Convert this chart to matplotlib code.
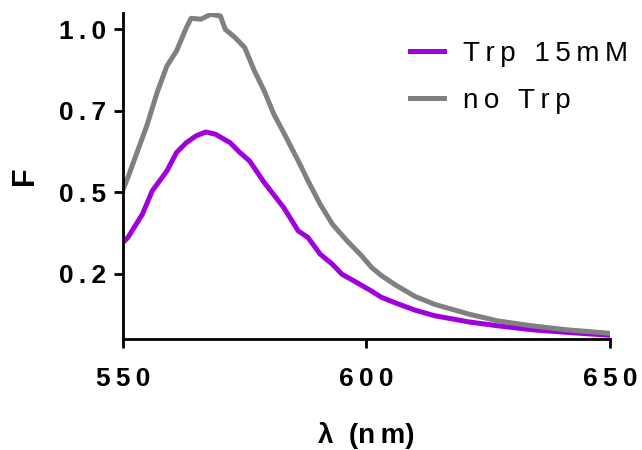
import matplotlib
matplotlib.use("Agg")
import matplotlib.pyplot as plt
from matplotlib.ticker import FixedLocator, FixedFormatter

plt.rcParams['font.family'] = ['Liberation Sans', 'DejaVu Sans']

TS = "\u2009"

wl_trp = [550, 551, 554, 556, 559, 561, 563, 565, 567, 569, 572, 574, 576, 579, 583,
          586, 588, 590.5, 593, 595, 598, 601, 603, 606, 610, 614, 621, 627, 634, 641, 650]
f_trp = [0.346, 0.361, 0.433, 0.504, 0.565, 0.622, 0.652, 0.673, 0.685, 0.678, 0.652,
         0.622, 0.596, 0.530, 0.453, 0.381, 0.361, 0.310, 0.279, 0.248, 0.223, 0.197,
         0.178, 0.160, 0.138, 0.121, 0.102, 0.090, 0.078, 0.070, 0.061]

wl_no = [550, 551, 553, 555, 557, 559, 561, 563, 564, 566, 568, 570, 571, 573, 575,
         577, 579, 581, 583, 586, 588, 590.5, 593, 596, 599, 601, 603, 606, 610, 614,
         621, 627, 634, 641, 650]
f_no = [0.509, 0.545, 0.627, 0.709, 0.806, 0.887, 0.934, 1.005, 1.034, 1.031, 1.046,
        1.041, 1.000, 0.975, 0.944, 0.872, 0.811, 0.739, 0.683, 0.596, 0.535, 0.463,
        0.402, 0.351, 0.305, 0.270, 0.245, 0.215, 0.180, 0.156, 0.126, 0.105, 0.090,
        0.078, 0.067]

series_labels = ["Trp 15mM", "no Trp"]
x_ticks = [550, 600, 650]
x_tick_labels = ["550", "600", "650"]
y_ticks = [0.25, 0.5, 0.75, 1.0]
y_tick_labels = ["0.2", "0.5", "0.7", "1.0"]

def spaced(s):
    return TS.join(s)

fig = plt.figure(figsize=(6.42, 4.50), dpi=100)
ax = fig.add_axes([0.1916, 0.247, 0.7584, 0.724])

ax.plot(wl_trp, f_trp, color="#A000DC", lw=3.6, label=spaced(series_labels[0]),
        solid_joinstyle='round')
ax.plot(wl_no, f_no, color="#808080", lw=3.6, label=spaced(series_labels[1]),
        solid_joinstyle='round')

ax.set_xlim(550, 650)
ax.set_ylim(0.05, 1.05)

ax.xaxis.set_major_locator(FixedLocator(x_ticks))
ax.xaxis.set_major_formatter(FixedFormatter([spaced(t) for t in x_tick_labels]))
ax.yaxis.set_major_locator(FixedLocator(y_ticks))
ax.yaxis.set_major_formatter(FixedFormatter([spaced(t) for t in y_tick_labels]))

for s in ["top", "right"]:
    ax.spines[s].set_visible(False)
for s in ["left", "bottom"]:
    ax.spines[s].set_linewidth(2.0)

ax.tick_params(axis='both', direction='out', length=6.5, width=2.0, labelsize=19)
ax.tick_params(axis='x', pad=14)
ax.tick_params(axis='y', pad=6)
for lab in ax.get_xticklabels() + ax.get_yticklabels():
    lab.set_fontweight('bold')

ax.set_xlabel("λ  (" + spaced("nm") + ")", fontsize=20, fontweight='bold', labelpad=22)
ax.set_ylabel("F", fontsize=22, fontweight='bold', labelpad=13)

leg = ax.legend(loc="upper left", bbox_to_anchor=(0.60, 0.965), bbox_transform=fig.transFigure,
                frameon=False, fontsize=20, handlelength=1.2, handletextpad=0.7,
                labelspacing=0.75)
for line in leg.get_lines():
    line.set_linewidth(3.6)

fig.savefig("out.png", dpi=100)
